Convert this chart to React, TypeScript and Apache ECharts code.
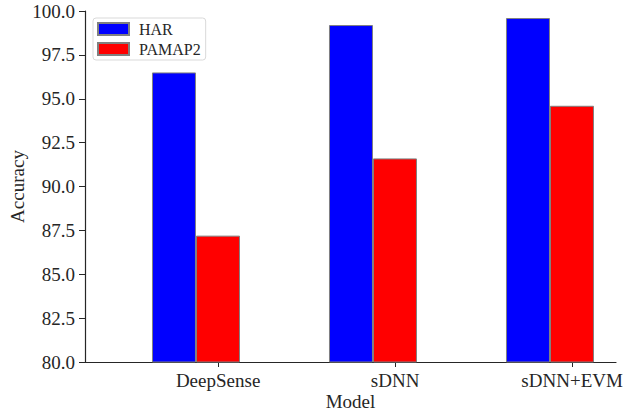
import React, { useEffect, useRef } from "react";
import * as echarts from "echarts";

const categories = ["DeepSense", "sDNN", "sDNN+EVM"];
const harValues = [96.5, 99.2, 99.6];
const pamapValues = [87.2, 91.6, 94.6];
const yTicks = { min: 80, max: 100, interval: 2.5 };
const tickOffset = 0.125;

const FONT = "'Liberation Serif', 'Times New Roman', serif";
const TXT = "#262626";

export default function App() {
  const ref = useRef<HTMLDivElement>(null);
  useEffect(() => {
    if (!ref.current) return;
    const chart = echarts.init(ref.current, undefined, { renderer: "svg" });
    const labelPos = categories.map((_, i) => i + tickOffset);
    chart.setOption({
      animation: false,
      textStyle: { fontFamily: FONT, color: TXT },
      grid: { left: 85, right: 8, top: 11, bottom: 51, containLabel: false, outerBoundsMode: "none" },
      legend: {
        orient: "vertical",
        left: 93,
        top: 18,
        padding: [3, 5, 3, 4],
        itemWidth: 31,
        itemHeight: 12,
        itemGap: 4,
        borderColor: "#d9d9d9",
        borderWidth: 1,
        borderRadius: 3,
        backgroundColor: "#fff",
        icon: "rect",
        textStyle: { fontFamily: FONT, fontSize: 16, color: TXT, padding: [0, 0, 0, 5] },
        data: ["HAR", "PAMAP2"],
      },
      xAxis: {
        type: "value",
        min: -0.627,
        max: 2.373,
        name: "Model",
        nameLocation: "middle",
        nameGap: 30,
        nameMoveOverlap: false,
        nameTextStyle: { fontFamily: FONT, fontSize: 19, color: TXT, lineHeight: 19 },
        axisLine: { show: true, onZero: false, lineStyle: { color: TXT, width: 1.2 } },
        axisTick: {
          show: true,
          length: 5,
          customValues: labelPos,
          lineStyle: { color: TXT },
        },
        axisLabel: {
          customValues: labelPos,
          fontFamily: FONT,
          fontSize: 19,
          color: TXT,
          margin: 9,
          formatter: (v: number) => categories[Math.round(v - tickOffset)] ?? "",
        },
        splitLine: { show: false },
      },
      yAxis: {
        type: "value",
        min: yTicks.min,
        max: yTicks.max,
        interval: yTicks.interval,
        name: "Accuracy",
        nameLocation: "middle",
        nameGap: 58,
        nameMoveOverlap: false,
        nameTextStyle: { fontFamily: FONT, fontSize: 19, color: TXT },
        axisLine: { show: true, onZero: false, lineStyle: { color: TXT, width: 1.2 } },
        axisTick: { show: true, length: 6, lineStyle: { color: TXT } },
        axisLabel: {
          fontFamily: FONT,
          fontSize: 19,
          color: TXT,
          margin: 10,
          formatter: (v: number) => v.toFixed(1),
        },
        splitLine: { show: false },
      },
      series: [
        {
          name: "HAR",
          type: "bar",
          barWidth: 44,
          barGap: "0%",
          itemStyle: { color: "#0000ff", borderColor: "#808080", borderWidth: 1 },
          data: harValues.map((v, i) => [i, v]),
        },
        {
          name: "PAMAP2",
          type: "bar",
          barWidth: 44,
          barGap: "0%",
          itemStyle: { color: "#ff0000", borderColor: "#808080", borderWidth: 1 },
          data: pamapValues.map((v, i) => [i, v]),
        },
      ],
    });
    return () => chart.dispose();
  }, []);
  return <div ref={ref} style={{ width: 624, height: 413, position: "absolute", left: 0, top: 0 }} />;
}
